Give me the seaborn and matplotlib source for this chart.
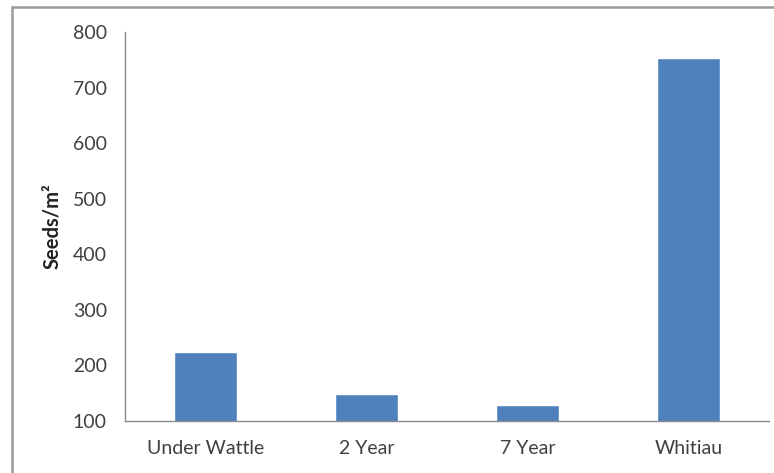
import matplotlib
matplotlib.use("Agg")
import matplotlib.pyplot as plt
import seaborn as sns
import pandas as pd
from matplotlib.patches import Rectangle

categories = ["Under Wattle", "2 Year", "7 Year", "Whitiau"]
seeds = [225, 148, 129, 754]
yticks = [100, 200, 300, 400, 500, 600, 700, 800]

sns.set_theme(style="white")
plt.rcParams['font.family'] = ['Lato', 'DejaVu Sans']

df = pd.DataFrame({"site": categories, "seeds": seeds})

fig = plt.figure(figsize=(7.74, 4.73), dpi=100)
ax = fig.add_axes([125/774, 1-421/473, (769-125)/774, (421-32)/473])
sns.barplot(data=df, x="site", y="seeds", color="#4F81BD", saturation=1,
            width=0.39, ax=ax, order=categories)
ax.set_xlim(-0.5, 3.5)
ax.set_ylim(100, 800)
ax.set_yticks(yticks)
ax.set_yticklabels([str(v) for v in yticks])
ax.set_xlabel("")
ax.set_ylabel("Seeds/m²", fontsize=14.5, fontweight="bold", color="#222222", labelpad=8)
ax.tick_params(axis="y", length=0, pad=13, labelsize=14, labelcolor="#404040")
ax.tick_params(axis="x", length=0, pad=14, labelsize=14, labelcolor="#404040")
for s in ["top", "right"]:
    ax.spines[s].set_visible(False)
for s in ["left", "bottom"]:
    ax.spines[s].set_color("#8a8a8a")
    ax.spines[s].set_linewidth(1.0)

fig.patches.append(Rectangle((12/774, -0.1), 1.2, 1.1 - 7/473,
                             transform=fig.transFigure, fill=False,
                             edgecolor="#9a9a9a", linewidth=1.8))
fig.savefig("out.png", dpi=100)
